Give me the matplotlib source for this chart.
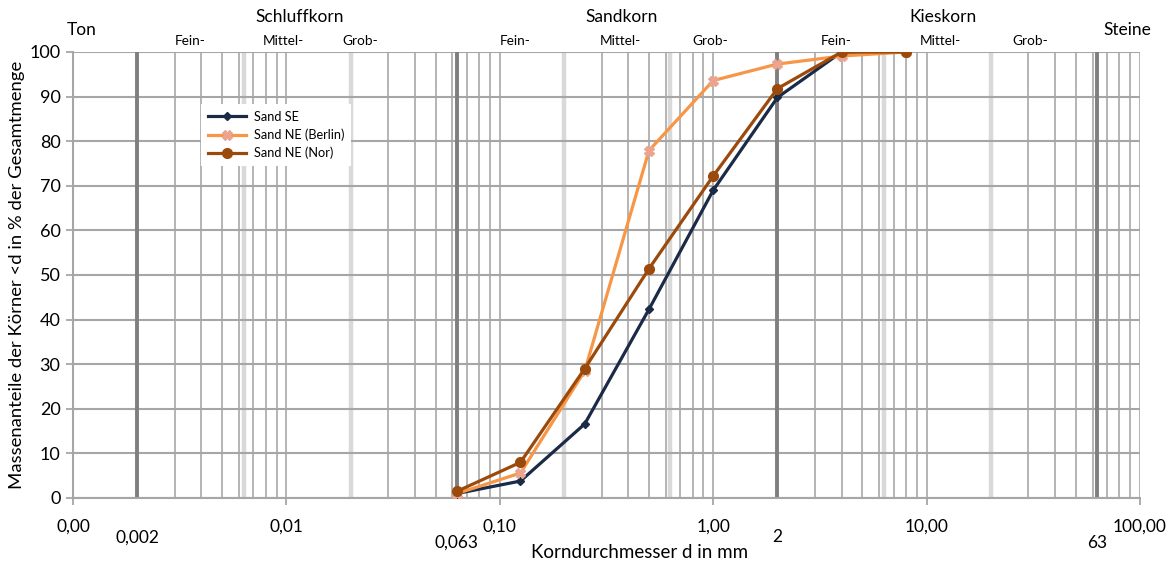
import numpy as np
import matplotlib
matplotlib.use("Agg")
import matplotlib.pyplot as plt
from matplotlib.ticker import FixedLocator, FixedFormatter, NullLocator

plt.rcParams['font.family'] = ['Lato', 'DejaVu Sans']

# ---- data ----
sieve_mm = [0.063, 0.125, 0.25, 0.5, 1.0, 2.0, 4.0, 8.0]
sand_se = [1.0, 3.8, 16.6, 42.3, 69.0, 89.8, 100.0, 100.0]
sand_ne_berlin = [1.0, 5.6, 28.5, 77.9, 93.6, 97.3, 99.1, 100.0]
sand_ne_nor = [1.5, 8.0, 29.0, 51.4, 72.2, 91.8, 100.0, 100.0]
series_names = ["Sand SE", "Sand NE (Berlin)", "Sand NE (Nor)"]

x_ticks = [0.001, 0.01, 0.1, 1, 10, 100]
x_tick_labels = ["0,00", "0,01", "0,10", "1,00", "10,00", "100,00"]
y_ticks = list(range(0, 101, 10))

main_bounds = [0.002, 0.063, 2, 63]
main_bound_labels = ["0,002", "0,063", "2", "63"]
sub_bounds = [0.0063, 0.02, 0.2, 0.63, 6.3, 20]

main_classes = ["Ton", "Schluffkorn", "Sandkorn", "Kieskorn", "Steine"]
sub_classes = ["Fein-", "Mittel-", "Grob-"] * 3

W, H = 1173, 563
fig = plt.figure(figsize=(W / 100, H / 100), dpi=100)
L, R, T, B = 73, 1140, 52, 498
ax = fig.add_axes([L / W, 1 - B / H, (R - L) / W, (B - T) / H])
ax.set_xscale('log')
ax.set_xlim(0.001, 100)
ax.set_ylim(0, 100)

# grid: minor lines per decade
minor = []
for d in [0.001, 0.01, 0.1, 1, 10]:
    for k in range(1, 10):
        minor.append(d * k)
minor.append(100)
for v in minor:
    ax.axvline(v, color='#b4b4b4', lw=1.4, zorder=1)
for v in sub_bounds:
    ax.axvline(v, color='#d9d9d9', lw=3.2, zorder=1.2)
for v in main_bounds:
    ax.axvline(v, color='#7f7f7f', lw=2.8, zorder=1.4)
for v in y_ticks:
    ax.axhline(v, color='#a6a6a6', lw=1.5, zorder=1.3)

for s in ax.spines.values():
    s.set_visible(False)
for side in ['bottom', 'left']:
    ax.spines[side].set_visible(True)
    ax.spines[side].set_color('#a6a6a6')
    ax.spines[side].set_linewidth(1.5)

ax.xaxis.set_major_locator(FixedLocator(x_ticks))
ax.xaxis.set_major_formatter(FixedFormatter(x_tick_labels))
ax.xaxis.set_minor_locator(NullLocator())
ax.set_yticks(y_ticks)
ax.tick_params(axis='x', length=5, width=1.3, color='#a6a6a6', labelsize=12.5, pad=10)
ax.tick_params(axis='y', length=5, width=1.3, color='#a6a6a6', labelsize=13, pad=4)

# data series
ax.plot(sieve_mm, sand_se, color='#1b2a47', lw=2.3, marker='D', ms=4.5,
        label=series_names[0], zorder=5)
ax.plot(sieve_mm, sand_ne_berlin, color='#f79646', lw=2.3, marker='X', ms=7,
        mfc='#eba58f', mec='#eba58f', label=series_names[1], zorder=6)
ax.plot(sieve_mm, sand_ne_nor, color='#9c4a0c', lw=2.3, marker='o', ms=7,
        label=series_names[2], zorder=7)

leg = ax.legend(loc='upper left', bbox_to_anchor=((195 - L) / (R - L), (B - 98) / (B - T)),
                fontsize=9.2, frameon=True, fancybox=False, handlelength=3.0,
                borderpad=0.5, labelspacing=0.45, handletextpad=0.6)
leg.get_frame().set_facecolor('white')
leg.get_frame().set_edgecolor('none')
leg.get_frame().set_alpha(1)
leg.set_zorder(10)

# axis labels
fig.text(640 / W, 1 - 552 / H, "Korndurchmesser d in mm", ha='center', va='center', fontsize=13.5)
fig.text(17 / W, 1 - 275 / H, "Massenanteile der Körner <d in % der Gesamtmenge",
         ha='center', va='center', rotation=90, fontsize=13.3)

# boundary labels below axis
trans = ax.get_xaxis_transform()
bound_y = [-0.088, -0.1, -0.088, -0.1]
for v, lab, yy in zip(main_bounds, main_bound_labels, bound_y):
    ax.text(v, yy, lab, transform=trans, ha='center', va='center', fontsize=12.5, clip_on=False)

# class labels above axis
main_px = [(82, 30), (300, 17), (622, 17), (943, 17), (1127, 30)]
for (px, py), lab in zip(main_px, main_classes):
    fig.text(px / W, 1 - py / H, lab, ha='center', va='center', fontsize=12.5)
sub_px = [190, 283, 360, 515, 620, 710, 836, 940, 1030]
for px, lab in zip(sub_px, sub_classes):
    fig.text(px / W, 1 - 41 / H, lab, ha='center', va='center', fontsize=9.8)

fig.savefig('out.png', dpi=100, facecolor='white')
